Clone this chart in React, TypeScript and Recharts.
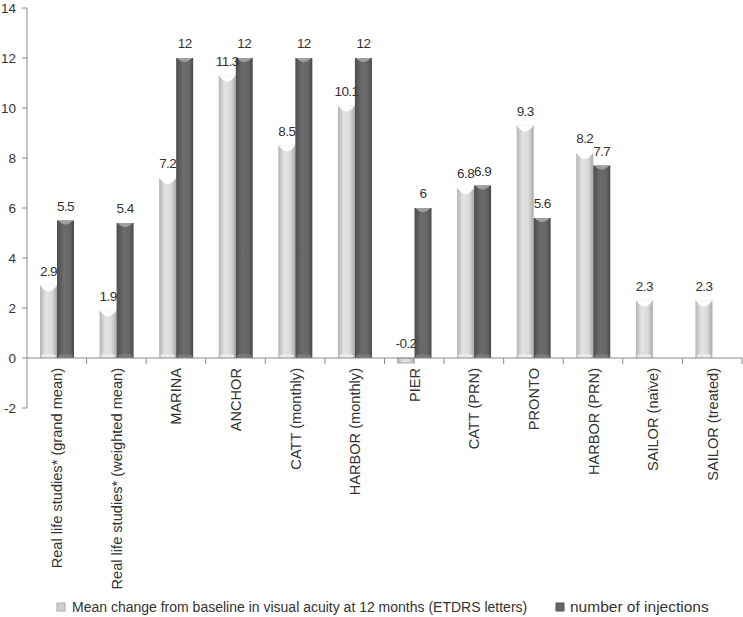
import { BarChart, Bar, XAxis, YAxis, ReferenceLine, Legend, LabelList } from 'recharts'

const categories = [
  'Real life studies* (grand mean)',
  'Real life studies* (weighted mean)',
  'MARINA',
  'ANCHOR',
  'CATT (monthly)',
  'HARBOR (monthly)',
  'PIER',
  'CATT (PRN)',
  'PRONTO',
  'HARBOR (PRN)',
  'SAILOR (naïve)',
  'SAILOR (treated)',
]
const acuityChange = [2.9, 1.9, 7.2, 11.3, 8.5, 10.1, -0.2, 6.8, 9.3, 8.2, 2.3, 2.3]
const injections: (number | null)[] = [5.5, 5.4, 12, 12, 12, 12, 6, 6.9, 5.6, 7.7, null, null]
const yTicks = [-2, 0, 2, 4, 6, 8, 10, 12, 14]

const data = categories.map((name, i) => ({
  name,
  acuity: acuityChange[i],
  injections: injections[i],
}))

const FONT = '"Liberation Sans", Arial, sans-serif'
const AXIS = '#8a8a8a'
const HALF_BAND = 715 / 12 / 2
const ZERO_SHIFT = 50 // distance from the -2 edge up to the zero line

function CategoryTick(props: any) {
  const { x, y, payload } = props
  const y0 = y - ZERO_SHIFT
  return (
    <g>
      <line x1={x + HALF_BAND} x2={x + HALF_BAND} y1={y0} y2={y0 + 6} stroke={AXIS} />
      <text
        transform={`translate(${x + 5.5},${y0 + 10}) rotate(-90)`}
        textAnchor="end"
        fontSize={14.6}
        fontFamily={FONT}
        fill="#333"
      >
        {payload.value}
      </text>
    </g>
  )
}

function LightBar(props: any) {
  const { x, y, width, height } = props
  if (width == null || height == null) return null
  const top = Math.min(y, y + height)
  const h = Math.abs(height)
  const v = Array.isArray(props.value) ? props.value[1] - props.value[0] : props.value
  const neg = v != null && v < 0
  return (
    <g>
      <rect x={x} y={top} width={width} height={h} fill="url(#lightGrad)" stroke={neg ? '#aaa' : 'none'} />
      {!neg && (
        <>
          <path
            d={`M${x},${top} L${x + width},${top} L${x + width - 1},${top + 1} Q${x + width / 2},${top + 11} ${x + 1},${top + 1} Z`}
            fill="#fff"
          />
          <ellipse cx={x + width / 2} cy={top + h - 2} rx={width / 2 - 1} ry={2} fill="#ececec" />
        </>
      )}
    </g>
  )
}

function DarkBar(props: any) {
  const { x, y, width, height } = props
  if (width == null || height == null || !height) return null
  const top = Math.min(y, y + height)
  const h = Math.abs(height)
  return (
    <g>
      <rect x={x} y={top} width={width} height={h} fill="url(#darkGrad)" />
      <path
        d={`M${x + 1},${top} L${x + width - 1},${top} Q${x + width / 2},${top + 8} ${x + 1},${top} Z`}
        fill="#a0a0a0"
      />
      <ellipse cx={x + width / 2} cy={top + h - 2} rx={width / 2 - 1} ry={2} fill="#7a7a7a" />
    </g>
  )
}

function ValueLabel(props: any) {
  const { x, y, width, height, value } = props
  if (value == null) return null
  const top = Math.min(y, y + height)
  return (
    <text
      x={x + width / 2}
      y={top - 10}
      textAnchor="middle"
      fontSize={13.5}
      letterSpacing={-0.6}
      fontFamily={FONT}
      fill="#333"
    >
      {value}
    </text>
  )
}

function LegendRow() {
  return (
    <svg width={743} height={20} style={{ display: 'block' }}>
      <rect x={57} y={6} width={8} height={8} fill="#cfcfcf" stroke="#aaa" />
      <text x={72} y={15} fontSize={14} fontFamily={FONT} fill="#333">
        Mean change from baseline in visual acuity at 12 months (ETDRS letters)
      </text>
      <rect x={556} y={6} width={8} height={8} fill="#666" stroke="#555" />
      <text x={570} y={15} fontSize={15.5} fontFamily={FONT} fill="#333">
        number of injections
      </text>
    </svg>
  )
}

export default function App() {
  return (
    <div style={{ position: 'absolute', left: 0, top: 0, background: '#fff' }}>
      <BarChart
        width={743}
        height={617}
        data={data}
        margin={{ top: 8, right: 1, left: 0, bottom: 0 }}
        barGap={0}
        barSize={17}
      >
        <defs>
          <linearGradient id="lightGrad" x1="0" y1="0" x2="1" y2="0">
            <stop offset="0%" stopColor="#b4b4b4" />
            <stop offset="35%" stopColor="#e4e4e4" />
            <stop offset="70%" stopColor="#dadada" />
            <stop offset="100%" stopColor="#aaaaaa" />
          </linearGradient>
          <linearGradient id="darkGrad" x1="0" y1="0" x2="1" y2="0">
            <stop offset="0%" stopColor="#4c4c4c" />
            <stop offset="40%" stopColor="#6c6c6c" />
            <stop offset="75%" stopColor="#666666" />
            <stop offset="100%" stopColor="#4a4a4a" />
          </linearGradient>
        </defs>
        <XAxis
          dataKey="name"
          interval={0}
          axisLine={false}
          tickLine={false}
          tickSize={0}
          tickMargin={0}
          height={209}
          tick={<CategoryTick />}
        />
        <YAxis
          domain={[-2, 14]}
          ticks={yTicks}
          width={27}
          tickSize={5}
          tickMargin={6}
          axisLine={{ stroke: AXIS }}
          tickLine={{ stroke: AXIS }}
          tick={{ fontSize: 13.5, fontFamily: FONT, fill: '#333' }}
        />
        <ReferenceLine y={0} stroke={AXIS} />
        <Bar dataKey="acuity" shape={<LightBar />} isAnimationActive={false}>
          <LabelList dataKey="acuity" content={<ValueLabel />} />
        </Bar>
        <Bar dataKey="injections" shape={<DarkBar />} isAnimationActive={false}>
          <LabelList dataKey="injections" content={<ValueLabel />} />
        </Bar>
        <Legend
          layout="horizontal"
          verticalAlign="middle"
          align="center"
          content={<LegendRow />}
          wrapperStyle={{ top: 597, left: 0, width: 743, height: 20 }}
        />
      </BarChart>
    </div>
  )
}
